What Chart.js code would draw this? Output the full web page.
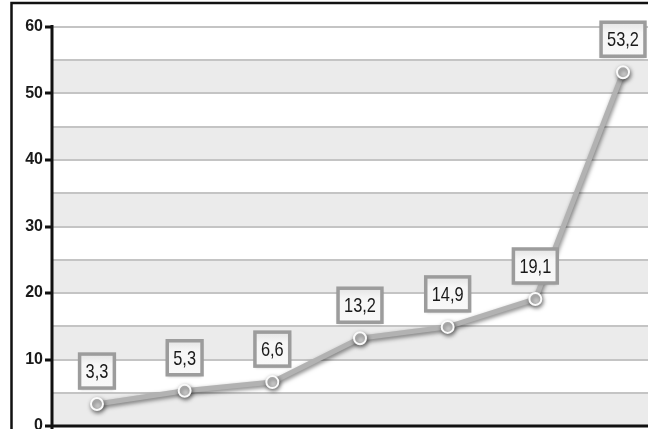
<!DOCTYPE html>
<html><head><meta charset="utf-8">
<script src="https://cdn.jsdelivr.net/npm/chart.js@4/dist/chart.umd.min.js"></script>
<style>html,body{margin:0;padding:0;background:#fff}#w{width:663px;height:429px}</style>
</head><body><div id="w"><canvas id="c" width="663" height="429"></canvas></div>
<script>
const categories = [0, 1, 2, 3, 4, 5, 6];
const values = [3.3, 5.3, 6.6, 13.2, 14.9, 19.1, 53.2];
const yTicks = [0, 10, 20, 30, 40, 50, 60];

const FONT = '"Liberation Sans", Arial, sans-serif';

const bgPlugin = {
  id: 'bg',
  beforeDraw(chart) {
    const {ctx, chartArea: a, scales: {y}} = chart;
    ctx.save();
    ctx.fillStyle = '#fff';
    ctx.fillRect(0, 0, chart.width, chart.height);
    ctx.fillStyle = '#ebebeb';
    for (let v = 0; v < 60; v += 10) {
      const t = y.getPixelForValue(v + 5), b = y.getPixelForValue(v);
      ctx.fillRect(a.left, t, a.right - a.left, b - t);
    }
    ctx.restore();
  },
  afterDraw(chart) {
    const {ctx, chartArea: a} = chart;
    ctx.save();
    ctx.strokeStyle = '#111';
    ctx.lineWidth = 2.5;
    ctx.beginPath();
    ctx.moveTo(11.5, chart.height);
    ctx.lineTo(11.5, 3);
    ctx.lineTo(a.right, 3);
    ctx.stroke();
    ctx.lineWidth = 3;
    ctx.beginPath();
    ctx.moveTo(a.left, a.top - 2);
    ctx.lineTo(a.left, chart.height);
    ctx.moveTo(a.left, a.bottom);
    ctx.lineTo(a.right, a.bottom);
    ctx.stroke();
    ctx.restore();
  }
};

const shadowPlugin = {
  id: 'shadow',
  beforeDatasetDraw(chart) {
    const ctx = chart.ctx;
    ctx.save();
    ctx.shadowColor = 'rgba(0,0,0,0.5)';
    ctx.shadowBlur = 4;
    ctx.shadowOffsetX = 1;
    ctx.shadowOffsetY = 2;
  },
  afterDatasetDraw(chart) { chart.ctx.restore(); }
};

const labelPlugin = {
  id: 'lbl',
  afterDatasetsDraw(chart) {
    const ctx = chart.ctx;
    const meta = chart.getDatasetMeta(0);
    ctx.save();
    ctx.font = '21px ' + FONT;
    ctx.textAlign = 'center';
    ctx.textBaseline = 'middle';
    const SX = 0.78;
    meta.data.forEach((pt, i) => {
      const txt = values[i].toString().replace('.', ',');
      const w = ctx.measureText(txt).width * SX + 12;
      const h = 34;
      const cx = pt.x, cy = pt.y - 33;
      ctx.save();
      ctx.shadowColor = 'rgba(0,0,0,0.25)';
      ctx.shadowBlur = 3;
      ctx.shadowOffsetY = 2;
      const g = ctx.createLinearGradient(0, cy - h / 2, 0, cy + h / 2);
      g.addColorStop(0, '#e4e4e4');
      g.addColorStop(0.3, '#f6f6f6');
      g.addColorStop(1, '#f8f8f8');
      ctx.fillStyle = g;
      ctx.fillRect(cx - w / 2, cy - h / 2, w, h);
      ctx.restore();
      ctx.strokeStyle = '#9c9c9c';
      ctx.lineWidth = 3.5;
      ctx.strokeRect(cx - w / 2, cy - h / 2, w, h);
      ctx.save();
      ctx.translate(cx, cy + 1);
      ctx.scale(SX, 1);
      ctx.fillStyle = '#1a1a1a';
      ctx.fillText(txt, 0, 0);
      ctx.restore();
    });
    ctx.restore();
  }
};

new Chart(document.getElementById('c'), {
  type: 'line',
  data: {
    datasets: [{
      data: categories.map((c, i) => ({x: c, y: values[i]})),
      borderColor: '#b2b2b2',
      borderWidth: 5,
      pointRadius: 6,
      pointBackgroundColor: '#c8c8c8',
      pointBorderColor: '#fafafa',
      pointBorderWidth: 2,
      tension: 0,
      clip: false
    }]
  },
  options: {
    responsive: false,
    animation: false,
    events: [],
    layout: {autoPadding: false, padding: {left: 11, top: 27, right: 15, bottom: 3}},
    plugins: {legend: {display: false}, tooltip: {enabled: false}},
    scales: {
      x: {
        type: 'linear', display: false, min: -0.513, max: 6.285
      },
      y: {
        min: 0, max: 60,
        afterBuildTicks(s) { s.ticks = []; for (let v = 0; v <= 60; v += 5) s.ticks.push({value: v}); },
        afterFit(s) { s.width = 41; },
        border: {display: false},
        grid: {
          drawTicks: true,
          tickLength: 7,
          tickColor: c => (c.tick && c.tick.value % 10 === 0) ? '#111' : 'rgba(0,0,0,0)',
          tickWidth: 3,
          color: c => (c.tick && c.tick.value > 0) ? '#c4c4c4' : 'rgba(0,0,0,0)',
          lineWidth: 2
        },
        ticks: {
          padding: 2,
          color: '#1a1a1a',
          font: {family: FONT, size: 16, weight: 'bold', lineHeight: 0.05},
          callback: v => yTicks.includes(v) ? String(v) : ''
        }
      }
    }
  },
  plugins: [bgPlugin, shadowPlugin, labelPlugin]
});
</script>
</body></html>
